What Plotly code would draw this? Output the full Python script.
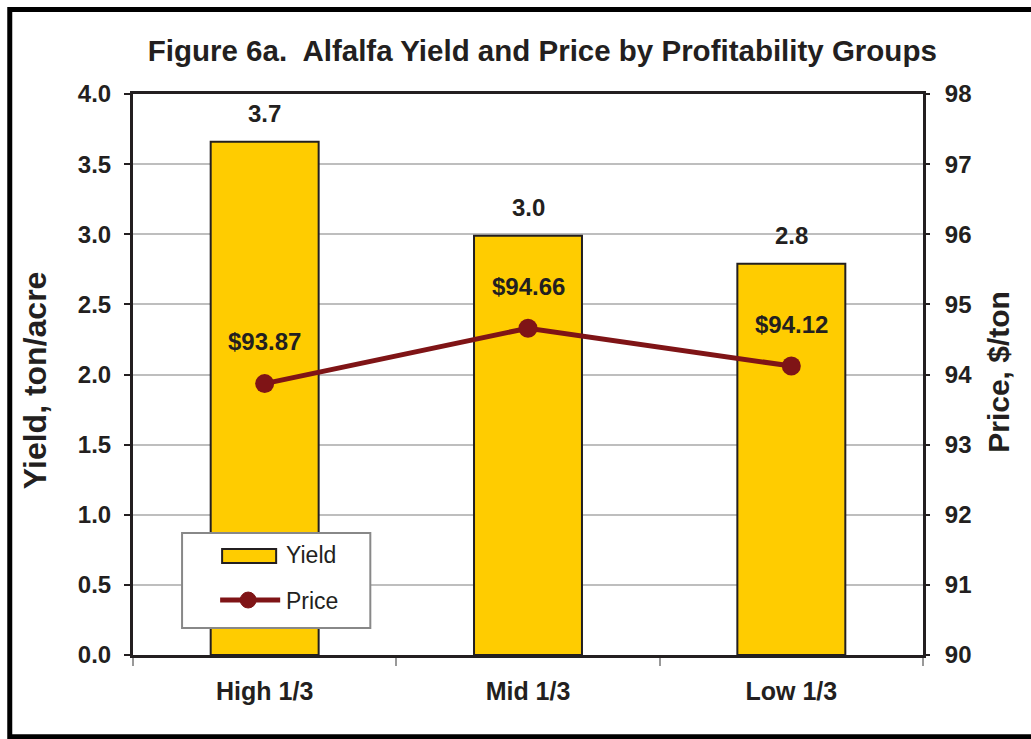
import plotly.graph_objects as go

groups = ["High 1/3", "Mid 1/3", "Low 1/3"]
yield_tons = [3.66, 2.99, 2.79]
price_per_ton = [93.87, 94.66, 94.12]

FONT = "Liberation Sans, Arial, sans-serif"
DARK = "#231F20"
GOLD = "#FFCC00"
MAROON = "#7F1416"

fig = go.Figure()

fig.add_trace(go.Bar(
    x=groups,
    y=yield_tons,
    name="Yield",
    marker=dict(color=GOLD, line=dict(color=DARK, width=2)),
    width=0.41,
))

fig.add_trace(go.Scatter(
    x=groups,
    y=price_per_ton,
    name="Price",
    yaxis="y2",
    mode="lines+markers",
    line=dict(color=MAROON, width=5),
    marker=dict(color=MAROON, size=19),
))

# value labels, lifted above the bars / markers
for g, v in zip(groups, yield_tons):
    fig.add_annotation(x=g, y=v, text=f"<b>{v:.1f}</b>", showarrow=False,
                       yshift=28, font=dict(family=FONT, size=24, color=DARK))
for g, p in zip(groups, price_per_ton):
    fig.add_annotation(x=g, y=p, yref="y2", text=f"<b>${p:.2f}</b>", showarrow=False,
                       yshift=42, font=dict(family=FONT, size=24, color=DARK))

# axis titles
fig.add_annotation(xref="paper", yref="paper", x=-0.124, y=0.49, textangle=-90,
                   xanchor="center", yanchor="middle",
                   text="<b>Yield, ton/acre</b>", showarrow=False,
                   font=dict(family=FONT, size=32, color=DARK))
fig.add_annotation(xref="paper", yref="paper", x=1.0963, y=0.505, textangle=-90,
                   xanchor="center", yanchor="middle",
                   text="<b>Price, $/ton</b>", showarrow=False,
                   font=dict(family=FONT, size=30, color=DARK))

# hand-made legend box (wide bar swatch like the original)
fig.add_shape(type="rect", xref="paper", yref="paper",
              x0=0.0621, x1=0.3004, y0=0.0481, y1=0.2175,
              fillcolor="white", line=dict(color="#888888", width=2), layer="above")
fig.add_shape(type="rect", xref="paper", yref="paper",
              x0=0.1128, x1=0.1812, y0=0.1640, y1=0.1889,
              fillcolor=GOLD, line=dict(color=DARK, width=2), layer="above")
fig.add_shape(type="line", xref="paper", yref="paper",
              x0=0.1103, x1=0.1863, y0=0.0980, y1=0.0980,
              line=dict(color=MAROON, width=5), layer="above")
fig.add_shape(type="circle", xref="paper", yref="paper",
              x0=0.1357, x1=0.1559, y0=0.0838, y1=0.1122,
              fillcolor=MAROON, line=dict(color=MAROON, width=1), layer="above")
fig.add_annotation(xref="paper", yref="paper", x=0.1915, y=0.1783,
                   xanchor="left", yanchor="middle",
                   text="Yield", showarrow=False, font=dict(family=FONT, size=23, color=DARK))
fig.add_annotation(xref="paper", yref="paper", x=0.1915, y=0.0963,
                   xanchor="left", yanchor="middle",
                   text="Price", showarrow=False, font=dict(family=FONT, size=23, color=DARK))

# outer frame round the whole chart (right edge runs off the picture)
fig.add_shape(type="rect", xref="paper", yref="paper",
              x0=-0.156, x1=1.17, y0=-0.1455, y1=1.1506,
              line=dict(color="black", width=5), layer="above")

fig.update_layout(
    width=1031,
    height=739,
    margin=dict(l=133, r=108, t=94, b=84),
    paper_bgcolor="white",
    plot_bgcolor="white",
    font=dict(family=FONT, color=DARK),
    title=dict(
        text="<b>Figure 6a.  Alfalfa Yield and Price by Profitability Groups</b>",
        x=0.526, xanchor="center", y=0.932, yanchor="middle",
        font=dict(family=FONT, size=29.5, color=DARK),
    ),
    showlegend=False,
    xaxis=dict(
        showline=True, linecolor=DARK, linewidth=3, mirror=True,
        ticks="outside", tickson="boundaries", ticklen=8, tickcolor="#999999",
        tickwidth=2, ticklabelstandoff=12,
        tickfont=dict(family=FONT, size=25, color=DARK),
        tickprefix="<b>", ticksuffix="</b>",
    ),
    yaxis=dict(
        range=[0, 4], dtick=0.5, tickformat=".1f",
        showline=True, linecolor=DARK, linewidth=3, mirror=True,
        ticks="outside", ticklen=6, tickcolor=DARK, tickwidth=2,
        ticklabelstandoff=8,
        tickprefix="<b>", ticksuffix="</b>",
        tickfont=dict(family=FONT, size=24, color=DARK),
        showgrid=True, gridcolor="#BEBEBE", gridwidth=2,
        zeroline=False,
    ),
    yaxis2=dict(
        range=[90, 98], dtick=1, overlaying="y", side="right",
        ticks="outside", ticklen=6, tickcolor=DARK, tickwidth=2,
        ticklabelstandoff=10,
        tickprefix="<b>", ticksuffix="</b>",
        tickfont=dict(family=FONT, size=24, color=DARK),
        showgrid=False, zeroline=False,
    ),
)

fig.write_html("out.html", config={"displayModeBar": False},
               post_script="document.body.style.margin='0';")
